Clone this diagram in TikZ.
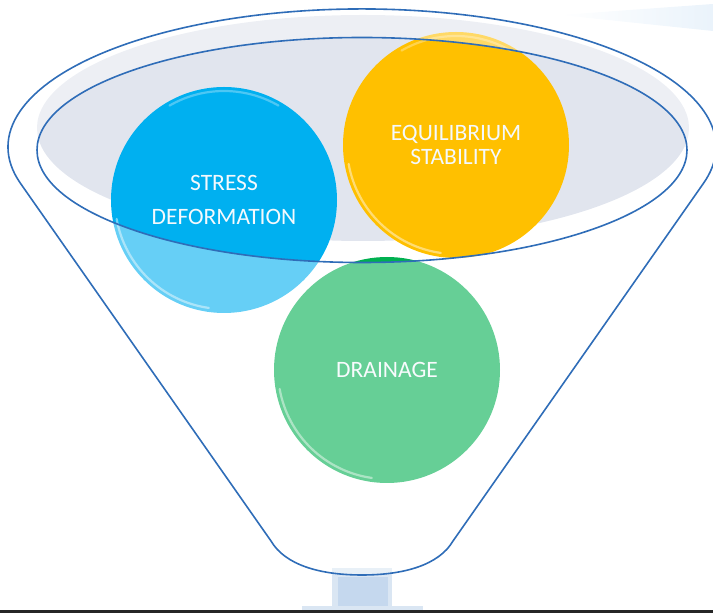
\documentclass[tikz,border=0pt]{standalone}
\usepackage{fontspec}
\setmainfont{Carlito}
\definecolor{rimline}{HTML}{2F6DB8}
\definecolor{greyin}{HTML}{E1E5EE}
\definecolor{ballblue}{HTML}{00B0F0}
\definecolor{ballgold}{HTML}{FFC000}
\definecolor{ballgreen}{HTML}{00B050}
\definecolor{spoutlight}{HTML}{DAE6F3}
\definecolor{spoutdark}{HTML}{C5D8EE}
\definecolor{streak}{HTML}{EAF3FB}
\definecolor{txt}{HTML}{F4F9FD}
\begin{document}
\begin{tikzpicture}[x=1pt,y=1pt,
  ball/.style={circle, minimum size=226pt, inner sep=0pt, text=txt, align=center},
  rimstroke/.style={draw=rimline, line width=1.6pt, line join=round},
  shine/.style={draw=white, draw opacity=0.45, line width=2.2pt, line cap=round}]
\useasboundingbox (0,0) rectangle (713,613);
\clip (0,0) rectangle (713,613);
% pale streak top right
\shade[left color=white, right color=streak, draw=none] (560,598) -- (713,609) -- (713,582) -- cycle;
% grey interior of the funnel mouth
\fill[greyin] (363,485) ellipse[x radius=326, y radius=113];
% spout and base
\fill[spoutlight] (332,3) rectangle (392,45);
\fill[spoutdark] (338,3) rectangle (388,36);
\fill[spoutlight] (302,3) rectangle (423,7);
\fill[black!85] (0,0) rectangle (713,3);
% balls
\node[ball, fill=ballblue, font=\fontsize{23.5}{34}\selectfont] (stress) at (224,413) {STRESS\\DEFORMATION};
\node[ball, fill=ballgold, font=\fontsize{23.5}{24}\selectfont] (equil) at (456,468) {EQUILIBRIUM\\STABILITY};
\node[ball, fill=ballgreen, font=\fontsize{23.5}{27}\selectfont] (drain) at (387,243) {DRAINAGE};
% bevel highlights
\draw[shine] ([shift={(190:109)}]stress.center) arc[start angle=190, end angle=262, radius=109];
\draw[shine] ([shift={(190:109)}]equil.center) arc[start angle=190, end angle=262, radius=109];
\draw[shine] ([shift={(190:109)}]drain.center) arc[start angle=190, end angle=262, radius=109];
\draw[shine, draw opacity=0.3] ([shift={(60:109)}]stress.center) arc[start angle=60, end angle=120, radius=109];
\draw[shine, draw opacity=0.3] ([shift={(60:109)}]equil.center) arc[start angle=60, end angle=120, radius=109];
% translucent front wall of the funnel
\fill[white, fill opacity=0.4, even odd rule]
  (703.9,430.3) arc[start angle=-15, end angle=195, x radius=354, y radius=138]
  -- (271,72) .. controls (285,48) and (320,38) .. (362,38)
  .. controls (404,38) and (439,48) .. (453,72) -- cycle
  (362,463) ellipse[x radius=325, y radius=112.5];
% outlines
\draw[rimstroke]
  (703.9,430.3) arc[start angle=-15, end angle=195, x radius=354, y radius=138]
  -- (271,72) .. controls (285,48) and (320,38) .. (362,38)
  .. controls (404,38) and (439,48) .. (453,72) -- cycle;
\draw[rimstroke] (362,463) ellipse[x radius=325, y radius=112.5];
\end{tikzpicture}
\end{document}
